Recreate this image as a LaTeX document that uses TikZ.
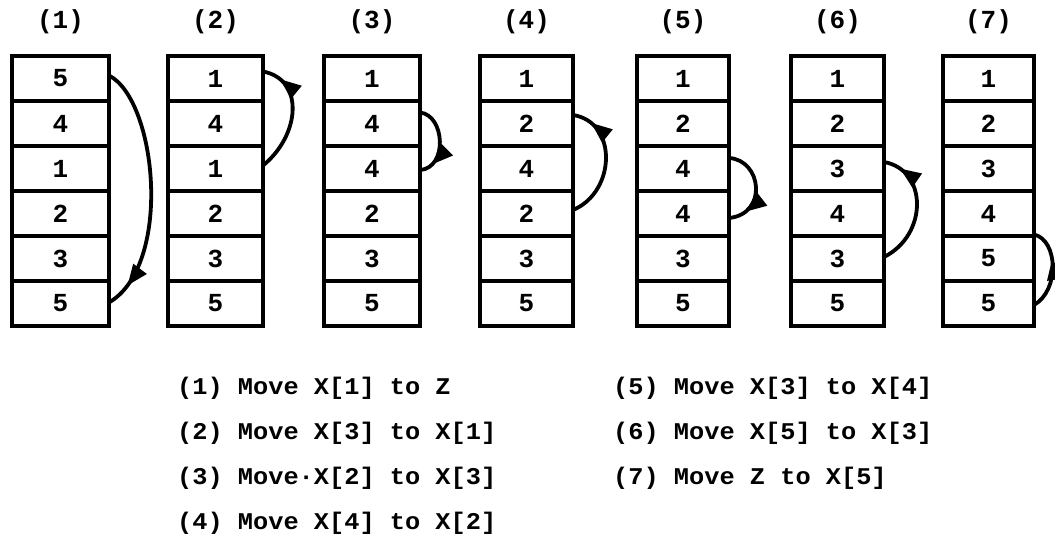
\documentclass[tikz,border=0pt]{standalone}
\usepackage{fontspec}
\usetikzlibrary{calc,arrows.meta,decorations.markings}
\newfontfamily\courcell{Liberation Mono}
\newfontfamily\courtext{Liberation Mono}[FakeStretch=1.055]
\tikzset{
  cell/.style={draw, line width=3.6pt, inner sep=0pt, outer sep=0pt, minimum height=45pt,
    font=\courcell\bfseries\fontsize{26}{26}\selectfont},
  colbox/.style={draw, line width=4.8pt},
  steplabel/.style={inner sep=0pt, font=\courcell\bfseries\fontsize{26}{26}\selectfont},
  movetext/.style={inner sep=0pt, anchor=base west, font=\courtext\bfseries\fontsize{24}{24}\selectfont},
  mv/.style={line width=3.8pt, postaction={decorate},
    decoration={markings, mark=at position #1 with {\arrow{Triangle[length=21pt,width=16pt]}}}},
  mv/.default=0.8
}
\begin{document}
\begin{tikzpicture}[x=1pt,y=-1pt]
\useasboundingbox (0,0) rectangle (1055,538);
\foreach \c/\l/\r/\vals in {1/12/109/{5,4,1,2,3,5},2/168/263/{1,4,1,2,3,5},3/324/420/{1,4,4,2,3,5},4/480/573/{1,2,4,2,3,5},5/637/729/{1,2,4,4,3,5},6/791/884/{1,2,3,4,3,5},7/943/1034/{1,2,3,4,5,5}}{
  \foreach \v [count=\k] in \vals {
    \node[cell, minimum width={(\r-\l)*1pt}] (c\c-\k) at ({(\l+\r)/2},{56+45*(\k-0.5)}) {\v};
  }
  \draw[colbox] (c\c-1.north west) rectangle (c\c-6.south east);
  \node[steplabel] (lab\c) at ({(\l+\r)/2},22) {(\c)};
}
% moves
\draw[mv=0.9] ($(c1-1.east)+(0,-3)$) .. controls +(48,24.5) and +(64,-37.5) .. ($(c1-6.east)+(0,-1)$);
\draw[mv=0.84] ($(c2-3.east)+(0,-3)$) .. controls +(37,-30) and +(42,8) .. ($(c2-1.east)+(0,-7)$);
\draw[mv=0.82] ($(c3-2.east)+(0,-11)$) .. controls +(25,2.5) and +(28,-2) .. ($(c3-3.east)+(0,1.5)$);
\draw[mv=0.84] ($(c4-4.east)+(0,-3.5)$) .. controls +(43,-18) and +(45,7) .. ($(c4-2.east)+(0,-8.5)$);
\draw[mv=0.8] ($(c5-3.east)+(0,-10.5)$) .. controls +(33,2) and +(39,-4) .. ($(c5-4.east)+(0,4.5)$);
\draw[mv=0.86] ($(c6-5.east)+(0,-1.5)$) .. controls +(44,-22) and +(44,8) .. ($(c6-3.east)+(0,-6.5)$);
\draw[mv=0.62] ($(c7-6.east)+(0,1.5)$) .. controls +(26,-15) and +(24,5.5) .. ($(c7-5.east)+(0,-24)$);
% text
\node[movetext] (t1) at (177,394) {(1) Move X[1] to Z};
\node[movetext] (t2) at (177,439) {(2) Move X[3] to X[1]};
\node[movetext] (t3) at (177,484) {(3) Move·X[2] to X[3]};
\node[movetext] (t4) at (177,529) {(4) Move X[4] to X[2]};
\node[movetext] (t5) at (613,394) {(5) Move X[3] to X[4]};
\node[movetext] (t6) at (613,439) {(6) Move X[5] to X[3]};
\node[movetext] (t7) at (613,484) {(7) Move Z to X[5]};
\end{tikzpicture}
\end{document}
